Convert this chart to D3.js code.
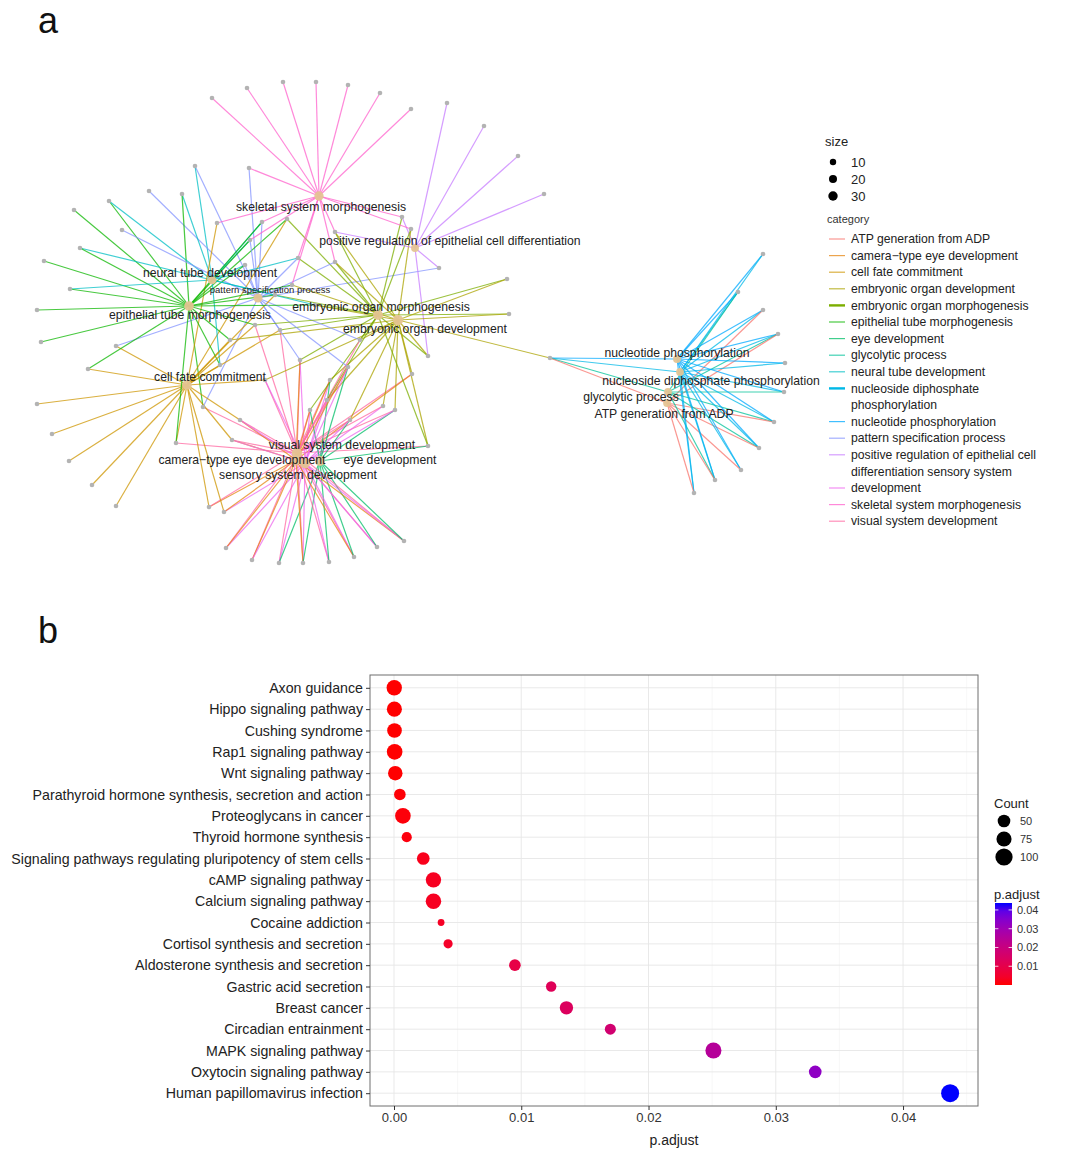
<!DOCTYPE html>
<html lang="en">
<head>
    <meta charset="UTF-8">
    <title>Enrichment network and KEGG dot plot</title>
    <script src="https://d3js.org/d3.v7.min.js"></script>
    <style>
        body { margin: 0; background: #fff; }
        svg { font-family: "Liberation Sans", Arial, sans-serif; }
    </style>
</head>
<body>
<script>
// ---------- panel a : gene-concept network ----------
const catKeys = ["ATP","CAM","CFC","EOD","EOM","ETM","EYE","GLY","NTD","NDP","NUC","PSP","PRE","SSD","SKM","VSD"];
const catNames = [
    "ATP generation from ADP", "camera\u2212type eye development", "cell fate commitment",
    "embryonic organ development", "embryonic organ morphogenesis", "epithelial tube morphogenesis",
    "eye development", "glycolytic process", "neural tube development",
    "nucleoside diphosphate phosphorylation", "nucleotide phosphorylation", "pattern specification process",
    "positive regulation of epithelial cell differentiation", "sensory system development",
    "skeletal system morphogenesis", "visual system development"
];
// number of genes per term (node size)
const catSize = [12, 24, 24, 30, 26, 25, 27, 12, 18, 12, 13, 21, 13, 30, 22, 30];
// layout coordinates of the term nodes
const catLayout = [
    [637,328],[266,385],[157,310],[368,245],[348,240],[159,231],[290,386],[638,317],
    [182,205],[650,297],[647,284],[228,223],[385,173],[275,388],[289,121],[267,378]
];
// gene nodes: layout x, layout y, terms it belongs to
const genes = [
    [182,23,["SKM"]],[217,13,["SKM"]],[253,7,["SKM"]],[286,7,["SKM"]],[318,10,["SKM"]],
    [350,18,["SKM"]],[381,34,["SKM"]],[219,93,["SKM","PSP"]],
    [417,28,["PRE"]],[454,51,["PRE"]],[488,81,["PRE"]],[514,119,["PRE"]],
    [409,193,["PRE","PSP"]],[372,142,["SKM","EOM","PRE"]],[381,154,["SKM","EOD","EOM"]],
    [165,91,["PSP","NTD"]],[119,116,["PSP"]],[152,119,["NTD","ETM"]],[79,126,["ETM","NTD"]],
    [44,135,["ETM"]],[92,155,["PSP"]],[50,173,["NTD","ETM"]],[14,186,["ETM"]],
    [40,214,["NTD","ETM"]],[7,235,["ETM"]],[11,267,["ETM"]],[86,271,["PSP","CFC"]],
    [58,294,["CFC","ETM"]],[7,329,["CFC"]],[22,359,["CFC"]],[39,386,["CFC"]],
    [62,410,["CFC"]],[86,431,["CFC"]],[146,368,["CFC","ETM","VSD"]],
    [173,332,["ETM","PSP","VSD"]],[187,148,["SKM","CFC"]],[257,144,["CFC","EOM","ETM"]],
    [179,432,["CFC","CAM","VSD"]],[194,437,["CFC","SSD","CAM"]],[196,473,["SSD","VSD","CAM"]],
    [222,485,["VSD","CAM","SSD"]],[249,488,["VSD","SSD","EYE"]],[273,488,["VSD","SSD","CAM","EYE"]],
    [299,487,["VSD","SSD","EYE"]],[324,482,["VSD","SSD","CAM","EYE"]],[347,472,["VSD","SSD","EYE"]],
    [374,466,["VSD","CAM","SSD","EYE"]],
    [398,281,["EOD","EOM","PRE"]],[382,299,["EOD","VSD","CAM"]],[365,335,["EOD","VSD","EYE","SSD"]],
    [353,331,["EOD","SSD","VSD"]],[398,371,["EOD","EOM","VSD","EYE"]],[479,239,["EOM","EOD"]],
    [477,204,["EOM","EOD"]],
    [232,147,["SKM","PSP","NTD","ETM"]],[268,183,["SKM","NTD","EOM","PSP"]],
    [305,187,["SKM","EOM","EOD","PSP"]],[215,190,["NTD","ETM","PSP"]],
    [250,255,["PSP","EOM","CFC","VSD"]],[200,265,["ETM","CFC","EOD"]],
    [270,285,["VSD","PSP","EOM","CAM","SSD"]],[235,305,["CFC","VSD","EOD","SSD"]],
    [300,305,["EOD","VSD","SSD","CAM","EYE"]],[320,345,["VSD","EYE","SSD","EOD"]],
    [210,345,["CFC","VSD","CAM","SSD"]],[280,335,["VSD","SSD","EYE","CAM","EOM"]],
    [330,265,["EOM","EOD","PSP","VSD"]],[202,365,["VSD","CAM","SSD","CFC"]],
    [190,290,["ETM","CFC","NTD"]],[297,325,["VSD","SSD","EOD","EOM"]],
    [305,157,["SKM","EOM","EOD","PRE"]],[220,165,["NTD","ETM","SKM","PSP"]],
    [245,220,["NTD","ETM","EOM","CFC"]],[285,230,["ETM","EOM","EOD","NTD"]],
    [262,210,["PSP","EOD","ETM","SKM"]],[318,292,["VSD","EYE","CAM","SSD","PSP"]],
    [225,250,["ETM","CFC","EOM","VSD"]],
    [520,283,["EOD","NUC","NDP","GLY","ATP"]],
    [733,179,["NUC","NDP"]],[708,217,["NUC","NDP","GLY"]],[733,235,["NUC","NDP","ATP"]],
    [748,259,["NUC","NDP","GLY","ATP"]],[755,288,["NUC","NDP"]],[754,317,["NUC","NDP","GLY"]],
    [744,347,["NUC","NDP","GLY","ATP"]],[729,373,["NUC","NDP","GLY","ATP"]],
    [711,395,["NUC","NDP","ATP"]],[685,405,["NUC","NDP","GLY","ATP"]],[664,418,["NUC","NDP","ATP"]]
];
const sizeBreaks = [10, 20, 30];
const legendLabels = [
    ["ATP generation from ADP"], ["camera\u2212type eye development"], ["cell fate commitment"],
    ["embryonic organ development"], ["embryonic organ morphogenesis"], ["epithelial tube morphogenesis"],
    ["eye development"], ["glycolytic process"], ["neural tube development"],
    ["nucleoside diphosphate", "phosphorylation"], ["nucleotide phosphorylation"],
    ["pattern specification process"],
    ["positive regulation of epithelial cell", "differentiation sensory system"], ["development"],
    ["skeletal system morphogenesis"], ["visual system development"]
];

// ---------- panel b : KEGG dot plot ----------
const terms = [
    "Axon guidance", "Hippo signaling pathway", "Cushing syndrome", "Rap1 signaling pathway",
    "Wnt signaling pathway", "Parathyroid hormone synthesis, secretion and action",
    "Proteoglycans in cancer", "Thyroid hormone synthesis",
    "Signaling pathways regulating pluripotency of stem cells", "cAMP signaling pathway",
    "Calcium signaling pathway", "Cocaine addiction", "Cortisol synthesis and secretion",
    "Aldosterone synthesis and secretion", "Gastric acid secretion", "Breast cancer",
    "Circadian entrainment", "MAPK signaling pathway", "Oxytocin signaling pathway",
    "Human papillomavirus infection"
];
const pAdjust = [0.00002, 0.00003, 0.00004, 0.00005, 0.0001, 0.00046, 0.0007, 0.0010, 0.0023, 0.0031,
                 0.0031, 0.0037, 0.00425, 0.0095, 0.01235, 0.01355, 0.0170, 0.0251, 0.0331, 0.0437];
const geneCount = [78, 74, 70, 81, 68, 41, 81, 29, 50, 78, 79, 8, 22, 41, 31, 57, 36, 85, 50, 110];
const pTicks = [0, 0.01, 0.02, 0.03, 0.04];
const countBreaks = [50, 75, 100];
const pBreaks = [0.01, 0.02, 0.03, 0.04];

// hue palette for the 16 terms
const catColors = ["#F8766D","#E68613","#CD9600","#ABA300","#7CAE00","#0CB702","#00BE67","#00C19A",
                   "#00BFC4","#00B8E7","#00A9FF","#8494FF","#C77CFF","#ED68ED","#FF61CC","#FF68A1"];

const width = 1080, height = 1166;
const svg = d3.select('body').append('svg').attr('width', width).attr('height', height);

svg.append('text').attr('x', 38).attr('y', 33).attr('font-size', 36).attr('fill', '#111').text('a');
svg.append('text').attr('x', 38).attr('y', 643).attr('font-size', 36).attr('fill', '#111').text('b');

// ---- network ----
const xNet = d3.scaleLinear().domain([0, 800]).range([30, 830]);
const yNet = d3.scaleLinear().domain([0, 500]).range([75, 575]);
const catColor = d3.scaleOrdinal().domain(catKeys).range(catColors);
const catR = d3.scaleLinear().domain([10, 30]).range([10.24, 22.1]);
const catRadius = n => Math.sqrt(catR(n));

const cats = catKeys.map((k, i) => ({ key: k, name: catNames[i], size: catSize[i],
    x: catLayout[i][0], y: catLayout[i][1] }));
const catByKey = new Map(cats.map(c => [c.key, c]));

const edges = [];
genes.forEach(g => g[2].forEach(k => edges.push({ g, c: catByKey.get(k) })));

const net = svg.append('g').attr('class', 'network');

net.append('g')
    .selectAll('line')
    .data(edges)
    .join('line')
    .attr('x1', d => xNet(d.g[0]))
    .attr('y1', d => yNet(d.g[1]))
    .attr('x2', d => xNet(d.c.x))
    .attr('y2', d => yNet(d.c.y))
    .attr('stroke', d => catColor(d.c.key))
    .attr('stroke-width', 1.2)
    .attr('stroke-opacity', 0.75);

net.append('g')
    .selectAll('circle')
    .data(genes)
    .join('circle')
    .attr('cx', d => xNet(d[0]))
    .attr('cy', d => yNet(d[1]))
    .attr('r', 2.3)
    .attr('fill', '#B3B3B3');

net.append('g')
    .selectAll('circle')
    .data(cats)
    .join('circle')
    .attr('cx', d => xNet(d.x))
    .attr('cy', d => yNet(d.y))
    .attr('r', d => catRadius(d.size) + 0.5)
    .attr('fill', '#E5C494')
    .attr('fill-opacity', 0.95);

// label placement relative to the term node
const labelOffset = {
    ATP: [-3, 11], CAM: [-54, 0], CFC: [23, -8], EOD: [27, 9], EOM: [3, -8], ETM: [1, 9],
    EYE: [70, -1], GLY: [-37, 5], NTD: [-2, -7], NDP: [31, 9], NUC: [0, -6], PSP: [12, -8],
    PRE: [35, -7], SSD: [-7, 12], SKM: [2, 11], VSD: [45, -8]
};
net.append('g')
    .selectAll('text')
    .data(cats)
    .join('text')
    .attr('x', d => xNet(d.x) + labelOffset[d.key][0])
    .attr('y', d => yNet(d.y) + labelOffset[d.key][1])
    .attr('dy', '0.35em')
    .attr('text-anchor', 'middle')
    .attr('font-size', d => d.key === 'PSP' ? 9.5 : 12.2)
    .attr('fill', '#222')
    .text(d => d.name);

// ---- network legend ----
const leg = svg.append('g').attr('class', 'legend-a');
leg.append('text').attr('x', 825).attr('y', 146).attr('font-size', 13).attr('fill', '#222').text('size');
leg.selectAll('circle.sz')
    .data(sizeBreaks)
    .join('circle')
    .attr('class', 'sz')
    .attr('cx', 833)
    .attr('cy', (d, i) => 162 + i * 17)
    .attr('r', d => catRadius(d))
    .attr('fill', '#000');
leg.selectAll('text.sz')
    .data(sizeBreaks)
    .join('text')
    .attr('class', 'sz')
    .attr('x', 851)
    .attr('y', (d, i) => 162 + i * 17)
    .attr('dy', '0.35em')
    .attr('font-size', 13)
    .attr('fill', '#222')
    .text(d => d);

leg.append('text').attr('x', 827).attr('y', 223).attr('font-size', 11).attr('fill', '#333').text('category');

const rowH = 16.6;
let row = 0;
legendLabels.forEach((lines, i) => {
    const y0 = 239 + row * rowH;
    const thick = (i === 4 || i === 9);
    leg.append('line')
        .attr('x1', 829).attr('x2', 845)
        .attr('y1', y0).attr('y2', y0)
        .attr('stroke', catColors[i])
        .attr('stroke-width', thick ? 2.4 : 1.2)
        .attr('stroke-opacity', thick ? 1 : 0.75);
    lines.forEach((t, j) => {
        leg.append('text')
            .attr('x', 851)
            .attr('y', y0 + j * rowH)
            .attr('dy', '0.35em')
            .attr('font-size', 12.2)
            .attr('fill', '#222')
            .text(t);
    });
    row += lines.length;
});

// ---- dot plot ----
const plot = { left: 370, right: 978, top: 675, bottom: 1106 };

const xScale = d3.scaleLinear()
    .domain([-0.001886, 0.04589])
    .range([plot.left, plot.right]);

const yScale = d3.scalePoint()
    .domain(terms)
    .range([plot.top, plot.bottom])
    .padding(0.6);

const colorScale = d3.scaleLinear()
    .domain(d3.extent(pAdjust))
    .range(['red', 'blue'])
    .interpolate(d3.interpolateLab);

const areaScale = d3.scaleLinear()
    .domain(d3.extent(geneCount))
    .range([3.4 * 3.4, 9 * 9]);
const radius = c => Math.sqrt(areaScale(c));

const dots = terms.map((t, i) => ({ term: t, p: pAdjust[i], count: geneCount[i] }));

const panel = svg.append('g').attr('class', 'dotplot');

panel.append('rect')
    .attr('x', plot.left).attr('y', plot.top)
    .attr('width', plot.right - plot.left).attr('height', plot.bottom - plot.top)
    .attr('fill', '#fff');

const minor = d3.range(0.005, 0.046, 0.01);
panel.append('g')
    .selectAll('line')
    .data(minor)
    .join('line')
    .attr('x1', d => xScale(d)).attr('x2', d => xScale(d))
    .attr('y1', plot.top).attr('y2', plot.bottom)
    .attr('stroke', '#f2f2f2').attr('stroke-width', 0.6);

panel.append('g')
    .selectAll('line')
    .data(pTicks)
    .join('line')
    .attr('x1', d => xScale(d)).attr('x2', d => xScale(d))
    .attr('y1', plot.top).attr('y2', plot.bottom)
    .attr('stroke', '#e6e6e6').attr('stroke-width', 0.9);

panel.append('g')
    .selectAll('line')
    .data(terms)
    .join('line')
    .attr('x1', plot.left).attr('x2', plot.right)
    .attr('y1', d => yScale(d)).attr('y2', d => yScale(d))
    .attr('stroke', '#e6e6e6').attr('stroke-width', 0.9);

panel.append('g')
    .selectAll('circle')
    .data(dots)
    .join('circle')
    .attr('cx', d => xScale(d.p))
    .attr('cy', d => yScale(d.term))
    .attr('r', d => radius(d.count))
    .attr('fill', d => colorScale(d.p));

panel.append('rect')
    .attr('x', plot.left).attr('y', plot.top)
    .attr('width', plot.right - plot.left).attr('height', plot.bottom - plot.top)
    .attr('fill', 'none')
    .attr('stroke', '#6e6e6e')
    .attr('stroke-width', 1);

const xAxis = d3.axisBottom(xScale).tickValues(pTicks).tickFormat(d3.format('.2f')).tickSize(4);
const yAxis = d3.axisLeft(yScale).tickSize(4).tickPadding(3);

const gx = panel.append('g')
    .attr('class', 'x-axis')
    .attr('transform', `translate(0,${plot.bottom})`)
    .call(xAxis);
gx.select('.domain').remove();
gx.selectAll('text').attr('font-size', 13).attr('fill', '#333');
gx.selectAll('line').attr('stroke', '#333');

const gy = panel.append('g')
    .attr('class', 'y-axis')
    .attr('transform', `translate(${plot.left},0)`)
    .call(yAxis);
gy.select('.domain').remove();
gy.selectAll('text').attr('font-size', 14.2).attr('fill', '#222');
gy.selectAll('line').attr('stroke', '#333');

panel.append('text')
    .attr('x', (plot.left + plot.right) / 2)
    .attr('y', 1145)
    .attr('text-anchor', 'middle')
    .attr('font-size', 14)
    .attr('fill', '#222')
    .text('p.adjust');

// ---- dot plot legends ----
const legB = svg.append('g').attr('class', 'legend-b');
legB.append('text').attr('x', 994).attr('y', 808).attr('font-size', 13).attr('fill', '#222').text('Count');
legB.selectAll('circle')
    .data(countBreaks)
    .join('circle')
    .attr('cx', 1004)
    .attr('cy', (d, i) => 821 + i * 18)
    .attr('r', d => radius(d))
    .attr('fill', '#000');
legB.selectAll('text.cnt')
    .data(countBreaks)
    .join('text')
    .attr('class', 'cnt')
    .attr('x', 1020)
    .attr('y', (d, i) => 821 + i * 18)
    .attr('dy', '0.35em')
    .attr('font-size', 11)
    .attr('fill', '#333')
    .text(d => d);

legB.append('text').attr('x', 994).attr('y', 899).attr('font-size', 13).attr('fill', '#222').text('p.adjust');

const bar = { x: 995, w: 17, top: 903, bottom: 985 };
const barScale = d3.scaleLinear().domain(d3.extent(pAdjust)).range([bar.bottom, bar.top]);

const grad = svg.append('defs').append('linearGradient')
    .attr('id', 'pgrad').attr('x1', 0).attr('x2', 0).attr('y1', 1).attr('y2', 0);
d3.range(0, 1.001, 0.1).forEach(t => {
    const v = colorScale.domain()[0] + t * (colorScale.domain()[1] - colorScale.domain()[0]);
    grad.append('stop').attr('offset', t).attr('stop-color', colorScale(v));
});
legB.append('rect')
    .attr('x', bar.x).attr('y', bar.top)
    .attr('width', bar.w).attr('height', bar.bottom - bar.top)
    .attr('fill', 'url(#pgrad)');
legB.selectAll('line.tk')
    .data(pBreaks.flatMap(p => [[p, bar.x, bar.x + 3.4], [p, bar.x + bar.w - 3.4, bar.x + bar.w]]))
    .join('line')
    .attr('class', 'tk')
    .attr('x1', d => d[1]).attr('x2', d => d[2])
    .attr('y1', d => barScale(d[0])).attr('y2', d => barScale(d[0]))
    .attr('stroke', '#fff').attr('stroke-width', 0.8);
legB.selectAll('text.pb')
    .data(pBreaks)
    .join('text')
    .attr('class', 'pb')
    .attr('x', 1017)
    .attr('y', d => barScale(d))
    .attr('dy', '0.35em')
    .attr('font-size', 11)
    .attr('fill', '#333')
    .text(d => d3.format('.2f')(d));
</script>
</body>
</html>
